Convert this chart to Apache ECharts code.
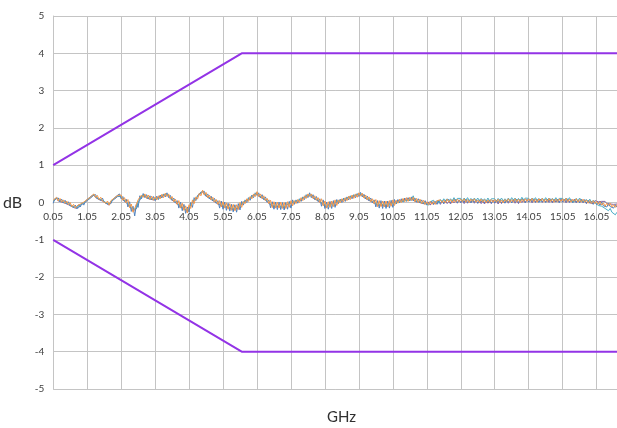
<!DOCTYPE html>
<html>
<head>
<meta charset="utf-8">
<script src="https://cdn.jsdelivr.net/npm/echarts@6/dist/echarts.min.js"></script>
<style>
html,body{margin:0;padding:0;background:#fff;}
#chart{width:617px;height:428px;}
</style>
</head>
<body>
<div id="chart"></div>
<script>
// Frequency axis: 0.05 GHz to 16.65 GHz in 0.05 GHz steps (category positions)
const freqStart = 0.05, freqStep = 0.05, freqCount = 333;
const freqs = [];
for (let i = 0; i < freqCount; i++) freqs.push((freqStart + freqStep * i).toFixed(2));

const xTickLabels = ['0.05','1.05','2.05','3.05','4.05','5.05','6.05','7.05','8.05','9.05','10.05','11.05','12.05','13.05','14.05','15.05','16.05'];
const yTickLabels = [-5,-4,-3,-2,-1,0,1,2,3,4,5];

// Limit masks (GHz, dB)
const upperLimit = [['0.05', 1], ['5.60', 4], ['16.65', 4]];
const lowerLimit = [['0.05', -1], ['5.60', -4], ['16.65', -4]];

// Measured traces (dB), one value per 0.05 GHz
const traceOrange = [
0.06,0.02,0.14,0.04,0.11,0.01,0.07,-0.02,0.04,-0.06,0.00,-0.11,-0.05,-0.15,-0.09,-0.14,-0.04,-0.09,0.01,-0.04,
0.08,0.04,0.15,0.11,0.23,0.13,0.19,0.08,0.14,0.04,0.09,-0.02,0.04,-0.07,0.05,0.00,0.12,0.08,0.19,0.15,
0.20,0.06,0.13,-0.01,0.08,-0.14,-0.04,-0.26,-0.16,-0.21,0.07,0.02,0.20,0.14,0.23,0.11,0.20,0.08,0.17,0.06,
0.15,0.07,0.18,0.10,0.22,0.13,0.25,0.16,0.23,0.09,0.16,0.02,0.09,-0.05,0.05,-0.15,-0.02,-0.21,-0.09,-0.28,
-0.06,-0.16,0.07,-0.03,0.15,0.09,0.24,0.18,0.33,0.20,0.27,0.13,0.20,0.07,0.14,0.01,0.08,-0.05,0.05,-0.12,
0.02,-0.15,-0.01,-0.18,-0.03,-0.21,-0.05,-0.22,-0.06,-0.19,0.00,-0.13,0.03,-0.03,0.10,0.03,0.16,0.10,0.23,0.16,
0.29,0.16,0.23,0.11,0.18,0.05,0.11,-0.03,0.06,-0.14,0.02,-0.15,0.01,-0.15,0.01,-0.16,0.00,-0.16,0.02,-0.13,
0.05,-0.09,0.05,-0.03,0.08,0.00,0.13,0.05,0.18,0.11,0.23,0.16,0.23,0.11,0.18,0.06,0.13,0.00,0.10,-0.09,
0.04,-0.15,0.02,-0.13,0.04,-0.11,0.07,-0.08,0.07,-0.01,0.10,0.02,0.13,0.05,0.17,0.08,0.20,0.11,0.23,0.14,
0.26,0.17,0.25,0.12,0.20,0.07,0.15,0.02,0.10,-0.03,0.08,-0.11,0.05,-0.11,0.04,-0.12,0.04,-0.12,0.05,-0.10,
0.07,-0.08,0.06,-0.02,0.09,0.00,0.11,0.02,0.13,0.03,0.14,0.05,0.14,0.02,0.11,0.00,0.09,-0.03,0.06,-0.05,
0.02,-0.06,0.03,-0.05,0.03,-0.05,0.05,0.00,0.07,-0.01,0.06,-0.01,0.09,0.01,0.08,-0.01,0.08,0.01,0.09,0.02,
0.09,0.02,0.10,0.01,0.08,0.00,0.09,0.03,0.10,0.01,0.07,0.00,0.09,0.01,0.08,-0.01,0.07,0.00,0.08,0.01,
0.08,0.01,0.09,0.00,0.07,-0.01,0.08,0.02,0.10,0.01,0.08,0.01,0.10,0.02,0.09,0.00,0.09,0.02,0.10,0.03,
0.10,0.03,0.11,0.02,0.09,0.01,0.10,0.04,0.11,0.02,0.09,0.02,0.11,0.03,0.10,0.01,0.09,0.02,0.10,0.03,
0.10,0.03,0.11,0.02,0.09,0.01,0.09,0.03,0.10,0.01,0.08,0.01,0.09,0.01,0.07,-0.02,0.05,-0.03,0.05,-0.03,
0.03,-0.05,0.02,-0.07,-0.01,-0.10,-0.02,-0.08,-0.02,-0.12,-0.06,-0.13,-0.05
];

const traceBlue = [
-0.02,0.10,0.06,0.12,0.03,0.09,-0.01,0.06,-0.04,0.02,-0.08,-0.03,-0.13,-0.07,-0.17,-0.06,-0.12,-0.01,-0.07,0.04,
0.00,0.12,0.07,0.19,0.15,0.21,0.11,0.16,0.06,0.12,0.01,0.06,-0.04,0.01,-0.03,0.08,0.04,0.16,0.11,0.23,
0.10,0.16,0.03,0.09,-0.12,0.02,-0.24,-0.10,-0.36,-0.05,-0.13,0.18,0.10,0.24,0.13,0.21,0.10,0.18,0.07,0.16,
0.05,0.17,0.08,0.20,0.12,0.23,0.15,0.26,0.13,0.19,0.06,0.12,-0.01,0.05,-0.15,0.01,-0.22,-0.05,-0.29,-0.12,
-0.26,0.00,-0.13,0.13,0.05,0.19,0.14,0.28,0.23,0.30,0.17,0.23,0.10,0.17,0.04,0.11,-0.02,0.05,-0.15,0.04,
-0.18,0.01,-0.21,-0.02,-0.23,-0.05,-0.25,-0.06,-0.26,-0.03,-0.20,0.03,-0.07,0.07,0.00,0.13,0.06,0.20,0.13,0.26,
0.19,0.26,0.13,0.21,0.08,0.15,0.01,0.07,-0.14,0.02,-0.18,0.01,-0.19,0.01,-0.19,0.00,-0.20,0.00,-0.18,0.03,
-0.15,0.07,-0.05,0.07,-0.02,0.10,0.03,0.15,0.08,0.21,0.13,0.26,0.13,0.21,0.08,0.16,0.03,0.10,-0.10,0.07,
-0.16,0.01,-0.18,0.03,-0.16,0.05,-0.13,0.08,-0.03,0.09,0.00,0.12,0.03,0.15,0.07,0.18,0.10,0.21,0.13,0.24,
0.16,0.27,0.15,0.22,0.10,0.17,0.05,0.12,0.00,0.07,-0.12,0.05,-0.15,0.05,-0.16,0.04,-0.16,0.04,-0.15,0.06,
-0.13,0.08,-0.04,0.08,-0.01,0.10,0.01,0.12,0.03,0.13,0.04,0.15,0.04,0.12,0.01,0.10,-0.01,0.07,-0.04,0.05,
-0.07,-0.01,-0.06,0.03,-0.05,0.01,-0.05,0.05,-0.02,0.05,-0.03,0.06,0.01,0.08,-0.01,0.06,0.01,0.08,-0.01,0.07,
0.00,0.07,0.01,0.09,0.00,0.06,-0.01,0.08,0.01,0.07,-0.02,0.07,0.01,0.08,-0.01,0.06,0.00,0.07,-0.02,0.06,
-0.01,0.06,0.00,0.08,-0.01,0.05,-0.02,0.07,0.01,0.07,-0.01,0.08,0.02,0.09,0.00,0.07,0.02,0.09,0.00,0.08,
0.01,0.08,0.02,0.10,0.01,0.07,0.00,0.09,0.02,0.08,0.00,0.09,0.03,0.10,0.01,0.08,0.02,0.09,0.00,0.08,
0.01,0.08,0.02,0.10,0.01,0.07,-0.01,0.08,0.01,0.07,-0.01,0.08,0.01,0.08,-0.02,0.05,-0.02,0.04,-0.05,0.02,
-0.06,0.00,-0.07,0.01,-0.09,-0.04,-0.12,-0.03,-0.11,-0.06,-0.15,-0.06,-0.13
];

const traceTeal = [
0.04,0.04,0.12,0.06,0.09,0.03,0.05,0.00,0.02,-0.04,-0.02,-0.09,-0.07,-0.13,-0.11,-0.12,-0.06,-0.07,-0.01,-0.02,
0.06,0.06,0.13,0.13,0.21,0.15,0.17,0.10,0.12,0.06,0.07,0.00,0.02,-0.05,0.03,0.02,0.10,0.10,0.17,0.17,
0.17,0.09,0.10,0.02,0.02,-0.08,-0.10,-0.20,-0.22,-0.15,0.01,0.08,0.17,0.17,0.20,0.14,0.17,0.11,0.14,0.09,
0.12,0.10,0.15,0.13,0.19,0.16,0.22,0.19,0.20,0.12,0.13,0.05,0.06,-0.02,-0.01,-0.09,-0.08,-0.15,-0.15,-0.22,
-0.12,-0.10,0.01,0.03,0.12,0.12,0.21,0.21,0.30,0.23,0.24,0.16,0.17,0.10,0.11,0.04,0.05,-0.02,-0.01,-0.06,
-0.04,-0.09,-0.07,-0.12,-0.09,-0.15,-0.11,-0.16,-0.12,-0.13,-0.06,-0.07,0.00,0.00,0.07,0.06,0.13,0.13,0.20,0.19,
0.26,0.19,0.20,0.14,0.15,0.08,0.08,0.00,0.00,-0.08,-0.04,-0.09,-0.05,-0.09,-0.05,-0.10,-0.06,-0.10,-0.04,-0.07,
-0.01,-0.03,0.02,0.00,0.05,0.03,0.10,0.08,0.15,0.14,0.20,0.19,0.20,0.14,0.15,0.09,0.10,0.03,0.04,-0.03,
-0.02,-0.09,-0.04,-0.07,-0.02,-0.05,0.01,-0.02,0.04,0.02,0.07,0.05,0.10,0.08,0.14,0.11,0.17,0.14,0.20,0.17,
0.23,0.20,0.22,0.15,0.17,0.10,0.12,0.05,0.07,0.00,0.02,-0.05,-0.01,-0.05,-0.02,-0.06,-0.02,-0.06,-0.01,-0.04,
0.01,-0.02,0.03,0.01,0.06,0.03,0.08,0.05,0.10,0.06,0.11,0.08,0.18,0.05,0.08,0.03,0.06,0.00,0.03,-0.02,
0.01,-0.07,0.02,-0.02,0.06,-0.02,0.05,-0.02,0.08,0.02,0.10,0.03,0.10,0.02,0.10,0.04,0.13,0.04,0.11,0.06,
0.11,0.04,0.12,0.06,0.13,0.05,0.11,0.03,0.12,0.05,0.12,0.05,0.11,0.03,0.10,0.04,0.12,0.03,0.10,0.05,
0.10,0.03,0.11,0.05,0.12,0.04,0.10,0.02,0.12,0.05,0.13,0.06,0.12,0.04,0.11,0.05,0.14,0.05,0.12,0.07,
0.11,0.04,0.12,0.06,0.13,0.05,0.11,0.03,0.12,0.05,0.13,0.06,0.12,0.04,0.11,0.05,0.13,0.04,0.11,0.06,
0.11,0.04,0.12,0.06,0.13,0.05,0.10,0.02,0.11,0.04,0.12,0.05,0.10,0.02,0.08,0.02,0.09,-0.01,0.06,0.00,
0.01,-0.08,-0.03,-0.10,-0.06,-0.16,-0.11,-0.22,-0.16,-0.26,-0.22,-0.33,-0.26
];

const tracePurple = [
0.03,0.02,0.11,0.04,0.08,0.01,0.04,-0.02,0.01,-0.06,-0.03,-0.11,-0.08,-0.15,-0.12,-0.14,-0.07,-0.09,-0.02,-0.04,
0.05,0.04,0.12,0.11,0.20,0.13,0.16,0.08,0.11,0.04,0.06,-0.02,0.01,-0.07,0.02,0.00,0.09,0.08,0.16,0.15,
0.16,0.07,0.09,0.00,0.01,-0.10,-0.11,-0.22,-0.23,-0.17,0.00,0.06,0.16,0.15,0.19,0.12,0.16,0.09,0.13,0.07,
0.11,0.08,0.14,0.11,0.18,0.14,0.21,0.17,0.19,0.10,0.12,0.03,0.05,-0.04,-0.02,-0.11,-0.09,-0.17,-0.16,-0.24,
-0.13,-0.12,0.00,0.01,0.11,0.10,0.20,0.19,0.29,0.21,0.23,0.14,0.16,0.08,0.10,0.02,0.04,-0.04,-0.02,-0.08,
-0.05,-0.11,-0.08,-0.14,-0.10,-0.17,-0.12,-0.18,-0.13,-0.15,-0.07,-0.09,-0.01,-0.02,0.06,0.04,0.12,0.11,0.19,0.17,
0.25,0.17,0.19,0.12,0.14,0.06,0.07,-0.02,-0.01,-0.10,-0.05,-0.11,-0.06,-0.11,-0.06,-0.12,-0.07,-0.12,-0.05,-0.09,
-0.02,-0.05,0.01,-0.02,0.04,0.01,0.09,0.06,0.14,0.12,0.19,0.17,0.19,0.12,0.14,0.07,0.09,0.01,0.03,-0.05,
-0.03,-0.11,-0.05,-0.09,-0.03,-0.07,0.00,-0.04,0.03,0.00,0.06,0.03,0.09,0.06,0.13,0.09,0.16,0.12,0.19,0.15,
0.22,0.18,0.21,0.13,0.16,0.08,0.11,0.03,0.06,-0.02,0.01,-0.07,-0.02,-0.07,-0.03,-0.08,-0.03,-0.08,-0.02,-0.06,
0.00,-0.04,0.02,-0.01,0.05,0.01,0.07,0.03,0.09,0.04,0.10,0.06,0.10,0.03,0.07,0.01,0.05,-0.02,0.02,-0.04,
-0.05,0.01,-0.07,0.01,-0.05,0.03,-0.03,0.05,-0.05,0.03,-0.03,0.05,-0.03,0.03,-0.04,0.05,-0.01,0.05,-0.02,0.07,
-0.01,0.06,-0.03,0.05,-0.02,0.06,0.00,0.07,-0.02,0.05,-0.02,0.06,-0.03,0.03,-0.04,0.05,-0.02,0.04,-0.03,0.06,
-0.02,0.05,-0.04,0.04,-0.03,0.05,-0.01,0.06,-0.02,0.05,-0.01,0.07,-0.02,0.04,-0.03,0.06,0.00,0.06,-0.01,0.08,
0.01,0.08,-0.01,0.07,0.00,0.08,0.02,0.09,0.00,0.07,0.01,0.09,0.00,0.06,-0.01,0.08,0.01,0.07,0.00,0.09,
0.01,0.08,-0.01,0.07,0.00,0.08,0.01,0.08,-0.01,0.06,0.00,0.08,-0.01,0.05,-0.03,0.06,-0.01,0.04,-0.03,0.05,
0.01,0.02,-0.03,0.03,-0.02,0.03,-0.03,0.02,-0.04,0.01,-0.05,0.00,-0.04
];

const tickSet = new Set(xTickLabels);
const FONT = 'Lato, "Liberation Sans", sans-serif';
const gridColor = '#C4C4C4';
const limitColor = '#9333E6';

function trace(data, color) {
  return {
    type: 'line', data: data, symbol: 'none', smooth: false, sampling: null,
    lineStyle: { width: 1, color: color }, itemStyle: { color: color },
    z: 2, silent: true
  };
}
function limit(data) {
  return {
    type: 'line', data: data, symbol: 'none',
    lineStyle: { width: 2, color: limitColor }, itemStyle: { color: limitColor },
    z: 5, silent: true
  };
}

const chart = echarts.init(document.getElementById('chart'), null, { renderer: 'canvas' });
chart.setOption({
  animation: false,
  backgroundColor: '#ffffff',
  grid: { left: 51, right: 0, top: 16, bottom: 39, containLabel: false },
  xAxis: {
    type: 'category',
    data: freqs,
    boundaryGap: false,
    position: 'bottom',
    offset: -186.5,
    axisLine: { show: true, onZero: false, lineStyle: { color: gridColor, width: 1 } },
    axisTick: { show: false },
    axisLabel: {
      interval: function (idx, val) { return tickSet.has(val); },
      color: '#404040', fontSize: 10, fontFamily: FONT, margin: 9
    },
    splitLine: {
      show: true,
      interval: function (idx, val) { return tickSet.has(val); },
      lineStyle: { color: gridColor, width: 1 }
    }
  },
  yAxis: {
    type: 'value', min: yTickLabels[0], max: yTickLabels[yTickLabels.length - 1], interval: 1,
    name: 'dB', nameLocation: 'middle', nameRotate: 0, nameGap: 31,
    nameTextStyle: { color: '#303030', fontSize: 16, fontFamily: FONT },
    axisLine: { show: true, lineStyle: { color: gridColor, width: 1 } },
    axisTick: { show: false },
    axisLabel: { color: '#404040', fontSize: 10, fontFamily: FONT, margin: 9 },
    splitLine: { show: true, lineStyle: { color: gridColor, width: 1 } }
  },
  graphic: [{
    type: 'text', left: 327, top: 410,
    style: { text: 'GHz', fill: '#303030', font: '15px ' + FONT }
  }],
  series: [
    trace(tracePurple, '#8064A2'),
    trace(traceBlue, '#4F81BD'),
    trace(traceTeal, '#4BACC6'),
    trace(traceOrange, '#F79646'),
    limit(upperLimit),
    limit(lowerLimit)
  ]
});
</script>
</body>
</html>
